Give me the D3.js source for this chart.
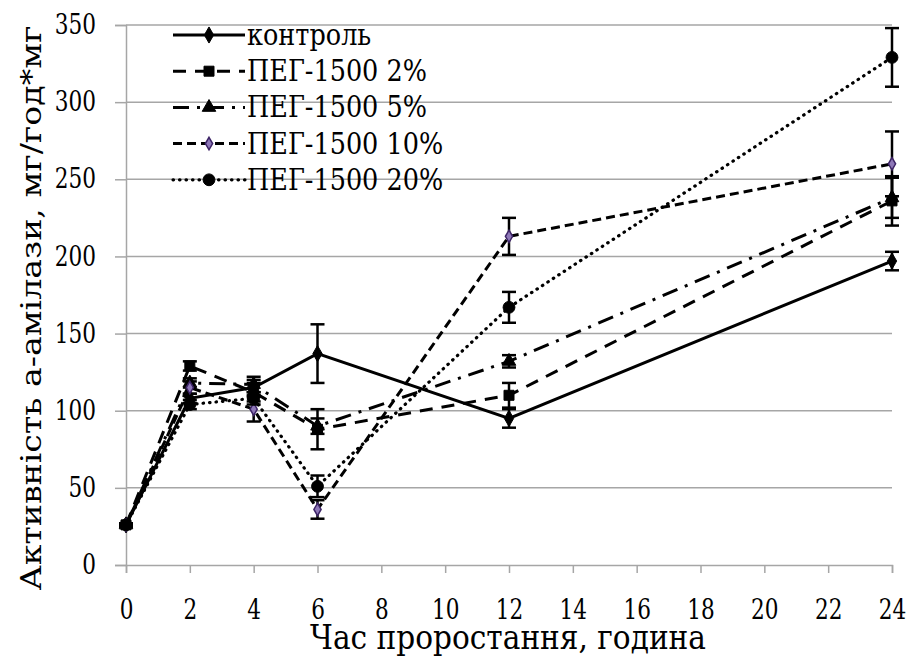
<!DOCTYPE html>
<html>
<head>
<meta charset="utf-8">
<script src="https://cdn.jsdelivr.net/npm/d3@7"></script>
<style>
  body { margin: 0; background: #fff; }
</style>
</head>
<body>
<script>
// hours and values
const hours = [0, 2, 4, 6, 12, 24];
const yTicks = [0, 50, 100, 150, 200, 250, 300, 350];
const xTicks = [0, 2, 4, 6, 8, 10, 12, 14, 16, 18, 20, 22, 24];

const seriesNames = ["контроль", "ПЕГ-1500 2%", "ПЕГ-1500 5%", "ПЕГ-1500 10%", "ПЕГ-1500 20%"];
const control   = [26, 108, 115, 137, 95, 197];
const peg2      = [26, 129, 112, 88, 110, 236];
const peg5      = [26, 118, 117, 90, 132, 238];
const peg10     = [26, 115, 101, 36, 213, 260];
const peg20     = [26, 104, 108, 51, 167, 329];
const controlErr = [1, 3, 5, 19, 6, 6];
const peg2Err    = [1, 3, 6, 13, 8, 16];
const peg5Err    = [1, 3, 5, 5, 4, 13];
const peg10Err   = [1, 4, 8, 6, 12, 21];
const peg20Err   = [1, 3, 4, 7, 10, 19];

// only DejaVu Serif gives a serif face here, it is wide so texts get squeezed
const FONT = "DejaVu Serif";
const SQUEEZE = 0.8;
const W = 910, H = 657;
const svg = d3.select('body').append('svg')
    .attr('width', W)
    .attr('height', H)
    .attr('font-family', FONT);

function squeeze(sel, k) {
    sel.each(function () {
        const w = this.getComputedTextLength();
        d3.select(this).attr('textLength', w * k).attr('lengthAdjust', 'spacingAndGlyphs');
    });
}

const x = d3.scaleLinear().domain([0, 24]).range([126, 892]);
const y = d3.scaleLinear().domain([0, 350]).range([565, 25]);

const gridColor = "#a6a6a6";

// horizontal gridlines
svg.append('g').selectAll('line')
    .data(yTicks.filter(d => d > 0))
    .enter().append('line')
    .attr('x1', x(0)).attr('x2', x(24))
    .attr('y1', d => y(d)).attr('y2', d => y(d))
    .attr('stroke', gridColor).attr('stroke-width', 1.5);

// y axis
const yAxisG = svg.append('g')
    .attr('transform', `translate(${x(0)},0)`)
    .call(d3.axisLeft(y).tickValues(yTicks).tickSize(11).tickPadding(19).tickFormat(d3.format('d')));
// x axis
const xAxisG = svg.append('g')
    .attr('transform', `translate(0,${y(0)})`)
    .call(d3.axisBottom(x).tickValues(xTicks).tickSize(8).tickPadding(27).tickFormat(d3.format('d')));

[yAxisG, xAxisG].forEach(g => {
    g.attr('font-family', FONT).attr('font-size', 27);
    g.select('.domain').attr('stroke', gridColor).attr('stroke-width', 1.5);
    g.selectAll('.tick line').attr('stroke', gridColor).attr('stroke-width', 1.5);
    g.selectAll('.tick text').attr('fill', '#000').call(squeeze, SQUEEZE);
});

// axis titles
svg.append('text')
    .attr('x', 508).attr('y', 649)
    .attr('text-anchor', 'middle')
    .attr('font-size', 33)
    .attr('textLength', 396).attr('lengthAdjust', 'spacingAndGlyphs')
    .text('Час проростання, година');

svg.append('text')
    .attr('transform', 'translate(41,308) rotate(-90)')
    .attr('text-anchor', 'middle')
    .attr('font-size', 28)
    .attr('textLength', 565).attr('lengthAdjust', 'spacingAndGlyphs')
    .text('Активність а-амілази, мг/год*мг');

const series = [
    { name: seriesNames[0], vals: control, err: controlErr, dash: null,        marker: 'diamond' },
    { name: seriesNames[1], vals: peg2,    err: peg2Err,    dash: '13,9',      marker: 'square' },
    { name: seriesNames[2], vals: peg5,    err: peg5Err,    dash: '16,8,3,8',  marker: 'triangle' },
    { name: seriesNames[3], vals: peg10,   err: peg10Err,   dash: '9,5',       marker: 'smalldiamond' },
    { name: seriesNames[4], vals: peg20,   err: peg20Err,   dash: '0.5,6',     marker: 'circle' }
];

const symbols = {
    diamond:      { type: d3.symbolDiamond,  size: 75,  fill: '#000', stroke: '#000' },
    square:       { type: d3.symbolSquare,   size: 100, fill: '#000', stroke: '#000' },
    triangle:     { type: d3.symbolTriangle, size: 80,  fill: '#000', stroke: '#000' },
    smalldiamond: { type: d3.symbolDiamond,  size: 45,  fill: '#8e78b8', stroke: '#3d2466' },
    circle:       { type: d3.symbolCircle,   size: 110, fill: '#000', stroke: '#000' }
};

const line = d3.line()
    .x(d => x(d.h))
    .y(d => y(d.v));

function drawMarker(g, kind, cx, cy) {
    const s = symbols[kind];
    g.append('path')
        .attr('transform', `translate(${cx},${cy})`)
        .attr('d', d3.symbol().type(s.type).size(s.size)())
        .attr('fill', s.fill)
        .attr('stroke', s.stroke)
        .attr('stroke-width', kind === 'smalldiamond' ? 1.5 : 1);
}

function styleLine(sel, s) {
    sel.attr('fill', 'none')
        .attr('stroke', '#000')
        .attr('stroke-width', s.marker === 'circle' ? 3.2 : 3)
        .attr('stroke-linecap', s.marker === 'circle' ? 'round' : 'butt')
        .attr('stroke-dasharray', s.dash);
}

series.forEach(s => {
    const pts = hours.map((h, i) => ({ h: h, v: s.vals[i], e: s.err[i] }));
    const g = svg.append('g');
    styleLine(g.append('path').datum(pts).attr('d', line), s);

    // error bars
    const eb = g.selectAll('.eb').data(pts).enter().append('g').attr('class', 'eb');
    eb.append('line')
        .attr('x1', d => x(d.h)).attr('x2', d => x(d.h))
        .attr('y1', d => y(d.v - d.e)).attr('y2', d => y(d.v + d.e));
    eb.append('line')
        .attr('x1', d => x(d.h) - 7).attr('x2', d => x(d.h) + 7)
        .attr('y1', d => y(d.v + d.e)).attr('y2', d => y(d.v + d.e));
    eb.append('line')
        .attr('x1', d => x(d.h) - 7).attr('x2', d => x(d.h) + 7)
        .attr('y1', d => y(d.v - d.e)).attr('y2', d => y(d.v - d.e));
    eb.selectAll('line').attr('stroke', '#000').attr('stroke-width', 2.5);

    pts.forEach(d => drawMarker(g, s.marker, x(d.h), y(d.v)));
});

// legend
const legend = svg.append('g');
series.forEach((s, i) => {
    const cy = 35 + i * 36.2;
    const lg = legend.append('g');
    styleLine(lg.append('line')
        .attr('x1', 173).attr('x2', 245)
        .attr('y1', cy).attr('y2', cy), s);
    drawMarker(lg, s.marker, 209, cy);
    lg.append('text')
        .attr('x', 247).attr('y', cy + 10)
        .attr('font-size', 29)
        .text(s.name)
        .call(squeeze, 0.88);
});
</script>
</body>
</html>
